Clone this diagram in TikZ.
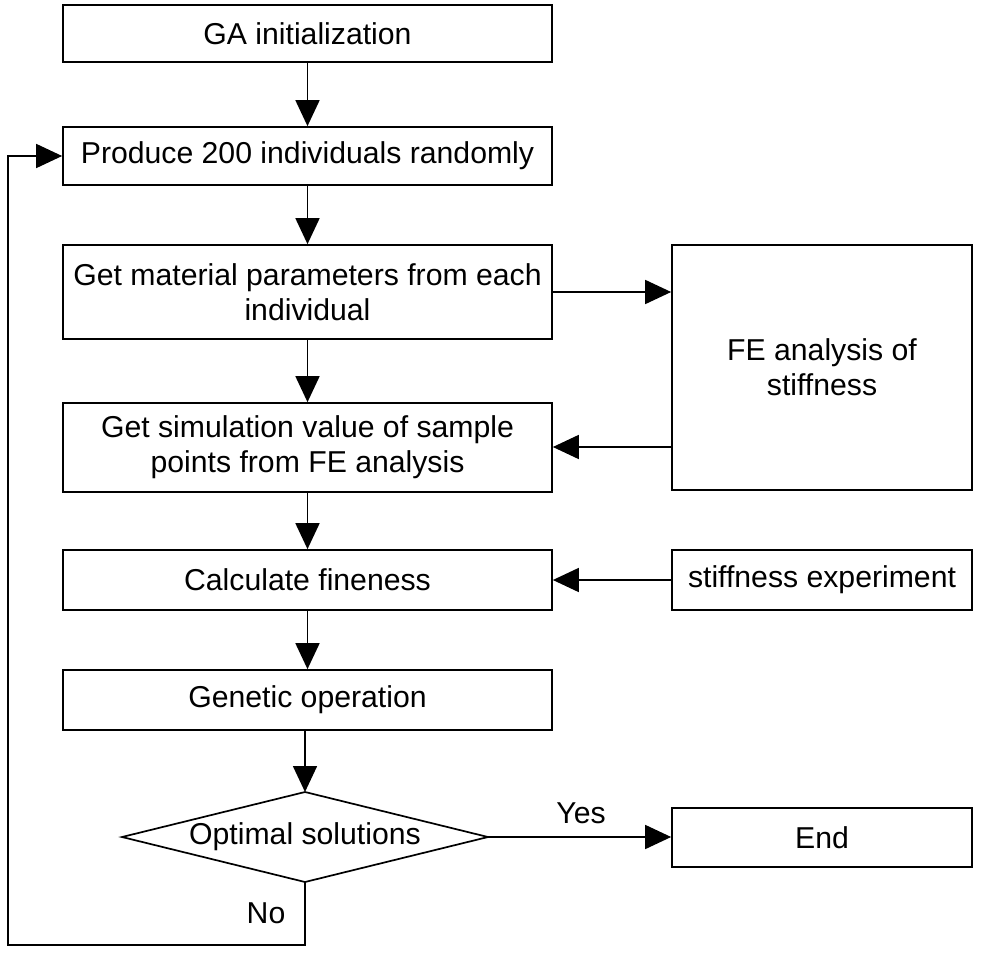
\documentclass[tikz,border=0pt]{standalone}
\usepackage{fontspec}
\setmainfont{Liberation Sans}
\usetikzlibrary{arrows.meta}
\begin{document}
\begin{tikzpicture}[x=1pt,y=-1pt,
  box/.style={draw, line width=1.7pt, minimum width=489pt, align=center, inner sep=0pt,
    font=\fontsize{30.2}{35}\selectfont},
  rbox/.style={draw, line width=1.7pt, minimum width=300pt, align=center, inner sep=0pt,
    font=\fontsize{30.2}{35}\selectfont},
  lbl/.style={font=\fontsize{30.2}{35}\selectfont, inner sep=0pt},
  arr/.style={line width=1.7pt, -{Triangle[length=26pt,width=24pt]}},
  ln/.style={line width=1.7pt}]
\useasboundingbox (0,0) rectangle (981,952);
\node[box, minimum height=57pt] (b1) at (307.5,33.5) {GA initialization};
\node[box, minimum height=58pt] (b2) at (307.5,156) {Produce 200 individuals randomly};
\node[box, minimum height=94pt] (b3) at (307.5,292) {Get material parameters from each\\individual};
\node[box, minimum height=89pt] (b4) at (307.5,447.5) {Get simulation value of sample\\points from FE analysis};
\node[box, minimum height=60pt] (b5) at (307.5,580) {Calculate fineness};
\node[box, minimum height=60pt] (b6) at (307.5,700) {Genetic operation};
\node[rbox, minimum height=245pt] (fe) at (822,367.5) {FE analysis of\\stiffness};
\node[rbox, minimum height=60pt] (se) at (822,580) {stiffness experiment};
\node[rbox, minimum height=59pt] (en) at (822,837.5) {End};
% decision diamond
\node[lbl] (d) at (305,837) {Optimal solutions};
\coordinate (dt) at (305,792);
\coordinate (db) at (305,882);
\coordinate (dl) at (122,837);
\coordinate (dr) at (488,837);
\draw[ln, line join=miter] (dt) -- (dr) -- (db) -- (dl) -- cycle;
% main flow
\draw[arr] (b1) -- (b2);
\draw[arr] (b2) -- (b3);
\draw[arr] (b3) -- (b4);
\draw[arr] (b4) -- (b5);
\draw[arr] (b5) -- (b6);
\draw[arr] (b6.south -| dt) -- (dt);
% side flows
\draw[arr] (b3.east) -- (b3.east -| fe.west);
\draw[arr] (fe.west |- 0,447) -- (b4.east |- 0,447);
\draw[arr] (se.west) -- (b5.east);
\draw[arr] (dr) -- (en.west |- dr);
\node[lbl] (yes) at (581,813) {Yes};
% loop back
\coordinate (c1) at (305,945);
\coordinate (c2) at (8,945);
\draw[arr, line join=miter] (db) -- (c1) -- (c2) |- (b2.west);
\node[lbl] (no) at (266,913) {No};
\end{tikzpicture}
\end{document}
